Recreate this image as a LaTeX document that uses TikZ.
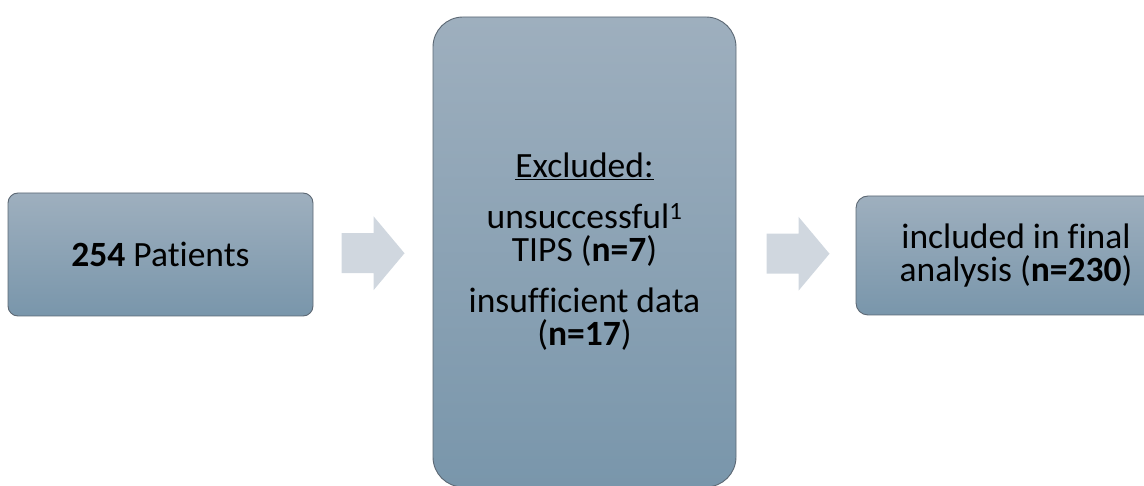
\documentclass[tikz,border=0pt]{standalone}
\usepackage{fontspec}
\setmainfont{Carlito}[Ligatures=NoCommon]
\usetikzlibrary{calc}
\definecolor{boxtop}{RGB}{158,175,190}
\definecolor{boxbottom}{RGB}{121,150,171}
\definecolor{boxline}{RGB}{92,104,116}
\definecolor{arrowgray}{RGB}{208,215,223}
\def\flowfont{\fontsize{35.5}{33}\selectfont}
\def\blockarrow#1{($(#1)+(-31.5,-20)$) -- ++(32,0) -- ++(0,-17) -- ++(31,37) -- ++(-31,37) -- ++(0,-17) -- ++(-32,0) -- cycle}

\begin{document}
\begin{tikzpicture}[x=1pt, y=-1pt,
    flowbox/.style={draw=boxline, line width=0.9pt, top color=boxtop, bottom color=boxbottom,
      align=center, font=\flowfont, text=black, inner sep=0pt}]
      \clip (0,0) rectangle (1144,486);

      % Patients
      \node[flowbox, minimum width=305pt, minimum height=123pt, rounded corners=10pt]
        (patients) at (160.5,254.5) {\textbf{254} Patients};

      % Excluded
      \node[flowbox, minimum width=303pt, minimum height=470pt, rounded corners=30pt]
        (excluded) at (584.5,252) {\underline{Excluded:}\\[18pt]
        unsuccessful\textsuperscript{1}\\ TIPS (\textbf{n=7})\\[18pt]
        insufficient data\\ (\textbf{n=17})};

      % Included
      \node[flowbox, minimum width=320pt, minimum height=119pt, rounded corners=12pt]
        (included) at (1016,255.5) {included in final\\ analysis (\textbf{n=230})};

      % Arrows
      \coordinate (a1) at ($(patients.east)!0.5!(excluded.west)$);
      \coordinate (a2) at ($(excluded.east)!0.5!(included.west)+(2,0)$);
      \fill[arrowgray] \blockarrow{a1};
      \fill[arrowgray] \blockarrow{a2};

    \end{tikzpicture}
\end{document}
